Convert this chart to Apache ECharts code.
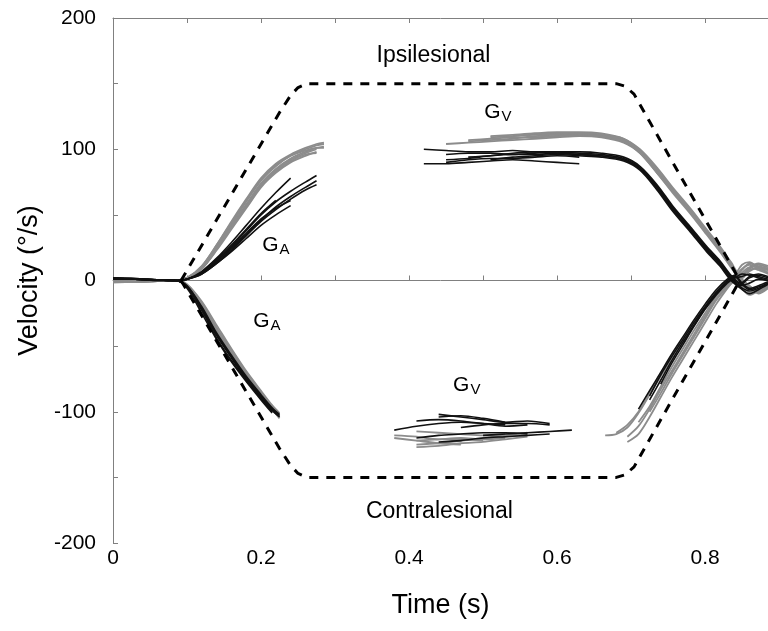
<!DOCTYPE html>
<html>
<head>
<meta charset="utf-8">
<script src="https://cdn.jsdelivr.net/npm/echarts@6/dist/echarts.min.js"></script>
<style>
html,body{margin:0;padding:0;background:#fff;}
#chart{width:768px;height:631px;}
</style>
</head>
<body>
<div id="chart"></div>
<script>
// time grids (s) for each part of the traces
var tAccUp = [0, 0.03, 0.06, 0.085, 0.1, 0.12, 0.14, 0.16, 0.18, 0.2, 0.22, 0.24, 0.26, 0.275, 0.285];
var tAccDn = [0, 0.03, 0.06, 0.085, 0.1, 0.12, 0.14, 0.16, 0.18, 0.2, 0.215, 0.225];
var tVelUp = [0.42, 0.45, 0.48, 0.51, 0.54, 0.57, 0.6, 0.63, 0.66, 0.69, 0.712, 0.735, 0.756, 0.78, 0.802, 0.82, 0.835, 0.848, 0.86, 0.872, 0.885];
var tVelDn = [0.38, 0.41, 0.44, 0.47, 0.5, 0.53, 0.56, 0.59, 0.62];
var tRet = [0.665, 0.68, 0.695, 0.71, 0.725, 0.74, 0.755, 0.77, 0.785, 0.8, 0.815, 0.83, 0.84, 0.85, 0.86, 0.872, 0.885];

// ipsilesional acceleration (G_A, up)
var accUpGray = [
    [-1, -1, -0.5, 0, 2, 11, 27, 45, 62, 78, 89, 96, 101, 104, 105],
    [-1.5, -1, -0.5, 0, 2, 10, 26, 43, 60, 76, 87, 95, 100, 103, 104],
    [-1, -0.5, 0, 0, 2, 10, 25, 42, 58, 74, 85, 93, 98, 101, 102],
    [-0.5, -0.5, 0, 0, 1.5, 9, 24, 41, 57, 73, 84, 92, 97, 100, null],
    [-1, -0.5, 0, 0, 1.5, 9, 23, 39, 55, 71, 82, 90, 95, 98, null],
    [-1, -1, -0.5, 0, 2, 11, 27, 44, 61, 77, 88, 95, 99, 101, 101],
    [-0.5, 0, 0, 0, 1.5, 9, 24, 40, 56, 72, 83, 91, 96, 97, null]
];
var accUpBlack = [
    [1.5, 1, 0.5, 0, 1, 6, 15, 26, 38, 50, 60, 68, 75, 80, null],
    [1.5, 1, 0.5, 0, 1, 6, 14, 24, 35, 46, 56, 64, 71, 76, null],
    [2, 1.5, 0.5, 0, 1, 7, 17, 29, 42, 55, 67, 78, null, null, null],
    [1.5, 1, 0.5, 0, 1, 6, 15, 25, 36, 47, 55, 61, null, null, null],
    [1.5, 1, 0, 0, 1, 5, 13, 22, 32, 42, 50, 57, null, null, null],
    [1, 1, 0.5, 0, 1, 6, 16, 27, 39, 51, 61, null, null, null, null],
    [1.5, 1, 0.5, 0, 1, 5, 13, 23, 34, 45, 54, 62, 69, 73, null]
];

// contralesional acceleration (G_A, down)
var accDnGray = [
    [-1, -1, -0.5, 0, -4, -19, -38, -55, -71, -86, -97, -104],
    [-1, -0.5, 0, 0, -3, -17, -36, -53, -70, -85, -96, -103],
    [-1.5, -1, -0.5, 0, -4, -18, -37, -54, -72, -88, -99, null],
    [-1, -1, 0, 0, -3, -16, -34, -52, -69, -84, -95, -101],
    [-0.5, -0.5, 0, 0, -4, -20, -39, -56, -72, -87, -98, -105]
];
var accDnBlack = [
    [1.5, 1, 0.5, 0, -5, -22, -42, -59, -75, -89, -99, -104],
    [1.5, 1, 0.5, 0, -5, -23, -44, -61, -76, -90, -100, null],
    [2, 1.5, 0.5, 0, -4, -21, -41, -58, -74, -88, -98, -103],
    [1, 1, 0, 0, -6, -25, -45, -62, -77, -91, -101, null],
    [1.5, 1, 0.5, 0, -4, -20, -40, -57, -73, -87, -97, -102]
];

// ipsilesional visually guided part (G_V, up)
var velUpGray = [
    [null, null, null, 109, 110, 111, 112, 112, 111, 108, 99, 84, 69, 53, 37, 24, 12, 2, 9, 12, 10],
    [null, null, 106, 107, 108, 110, 111, 111, 110, 107, 98, 83, 68, 52, 36, 23, 11, 1, 7, 10, 8],
    [null, null, null, null, 110, 112, 113, 113, 112, 108, 100, 86, 71, 55, 39, 26, 14, 4, 10, 13, 11],
    [null, 104, 105, 106, 107, 108, 109, 110, 109, 105, 97, 82, 67, 51, 35, 22, 10, 0, -6, -9, -5],
    [null, null, 107, 108, 109, 109, 110, 111, 110, 106, 98, 84, 69, 53, 37, 24, 12, 2, -4, -8, -4],
    [null, null, null, 110, 111, 112, 111, 112, 111, 107, 99, 85, 70, 54, 38, 25, 13, 3, 8, 9, 6],
    [null, null, null, null, null, 109, 110, 111, 110, 106, 97, 82, 68, 52, 36, 23, 11, 1, -5, -10, -6]
];
var velUpBlack = [
    [100, 99, 98, 98, 99, 98, 98, 97, 96, 93, 86, 72, 56, 40, 25, 14, 3, -3, 2, 4, 2],
    [null, 92, 93, 95, 96, 96, 97, 96, 95, 92, 85, 71, 55, 39, 24, 13, 2, -4, -2, 1, 0],
    [89, 89, 90, 91, 92, 91, 90, 89, null, null, null, null, null, null, null, null, null, null, null, null, null],
    [null, null, 94, 95, 97, 98, 97, 96, 95, 92, 85, 70, 54, 38, 23, 12, 1, -5, -8, -6, -2],
    [null, 96, 97, 97, 96, 97, 98, 98, 97, 94, 87, 73, 57, 41, 26, 15, 4, -2, 3, 5, 3],
    [null, null, null, 92, 94, 95, 96, 95, 94, 91, 84, 69, 53, 37, 22, 11, 0, -6, -10, -7, -3],
    [null, 90, 92, 93, 93, 94, 95, 94, null, null, null, null, null, null, null, null, null, null, null, null, null]
];

// contralesional visually guided part (G_V, down)
var velDnGray = [
    [null, -122, -121, -120, -121, -120, null, null, null],
    [null, -125, -124, -122, -121, -119, -118, null, null],
    [-118, -119, -121, -121, -122, null, null, null, null],
    [null, -127, -126, -124, -123, -121, -119, null, null],
    [null, null, -124, -122, -120, -118, -116, null, null],
    [-120, -122, -124, -125, null, null, null, null, null],
    [null, -115, -116, -117, -118, -117, null, null, null]
];
var velDnBlack = [
    [-114, -111, -109, -108, -109, -110, null, null, null],
    [null, -107, -106, -107, -109, -111, -110, null, null],
    [null, null, -104, -103, -105, -108, null, null, null],
    [null, null, -102, -104, -106, -108, -107, -109, null],
    [null, null, null, -112, -110, -109, -109, -110, null],
    [null, null, null, null, -118, -117, -116, -115, -114],
    [null, -120, -118, -117, -116, -116, -117, null, null],
    [null, null, -123, -122, -120, -119, -118, -117, null]
];

// contralesional return towards zero
var retGray = [
    [-118, -117, -112, -101, -87, -73, -60, -47, -34, -21, -10, -1, 4, 12, 14, 10, 8],
    [null, null, -123, -117, -104, -89, -74, -60, -46, -32, -18, -6, 1, 8, 13, 11, 9],
    [null, -116, -110, -100, -86, -71, -58, -45, -31, -19, -8, 0, 3, 9, 12, 9, 6],
    [null, null, null, -108, -96, -81, -66, -52, -38, -25, -12, -3, 2, -6, -11, -8, -4],
    [null, null, -119, -111, -98, -83, -69, -55, -41, -27, -14, -4, 1, -4, -9, -7, -3],
    [null, null, null, null, -100, -86, -71, -57, -43, -29, -15, -5, 0, 6, 10, 8, 5]
];
var retBlack = [
    [null, null, null, null, -88, -72, -58, -45, -32, -20, -9, 0, 3, -3, -7, -5, -2],
    [null, null, null, null, -91, -76, -61, -47, -34, -21, -10, -1, 2, 3, 5, 3, 1],
    [null, null, null, -98, -84, -70, -56, -43, -30, -18, -7, 1, 4, -2, -6, -4, -1],
    [null, null, null, null, null, -79, -63, -49, -35, -22, -11, -2, 2, 5, 4, 2, 0]
];

// dashed target velocity profile
var dashT = [0.092, 0.225, 0.24, 0.25, 0.262, 0.68, 0.692, 0.704, 0.718, 0.847];
var dashUp = [0, 128, 141, 147, 150, 150, 148, 142, 128, 0];
var dashDn = [0, -128, -141, -147, -150, -150, -148, -142, -128, 0];

// text annotations
var noteText = ['Ipsilesional', 'Contralesional', '{g|G}{s|V}', '{g|G}{s|V}', '{g|G}{s|A}', '{g|G}{s|A}'];
var notePos = [[0.433, 171], [0.441, -176], [0.52, 128], [0.478, -80], [0.22, 27], [0.208, -31]];

var GRAY = '#8c8c8c';
var BLACK = '#111';
var FONT = 'Liberation Sans, Arial, sans-serif';
var series = [];

function addTraces(t, rows, color, width) {
    for (var i = 0; i < rows.length; i++) {
        var d = [];
        for (var j = 0; j < rows[i].length; j++) {
            if (rows[i][j] !== null) d.push([t[j], rows[i][j]]);
        }
        series.push({
            type: 'line', data: d, smooth: 0.3, symbol: 'none', silent: true,
            lineStyle: {color: color, width: width}
        });
    }
}

addTraces(tAccUp, accUpGray, GRAY, 1.8);
addTraces(tAccDn, accDnGray, GRAY, 1.8);
addTraces(tVelUp, velUpGray, GRAY, 1.8);
addTraces(tVelDn, velDnGray, GRAY, 1.8);
addTraces(tRet, retGray, GRAY, 1.8);
addTraces(tAccUp, accUpBlack, BLACK, 1.6);
addTraces(tAccDn, accDnBlack, BLACK, 1.6);
addTraces(tVelUp, velUpBlack, BLACK, 1.6);
addTraces(tVelDn, velDnBlack, BLACK, 1.6);
addTraces(tRet, retBlack, BLACK, 1.6);

[dashUp, dashDn].forEach(function (vals) {
    series.push({
        type: 'line', smooth: false, symbol: 'none', silent: true,
        data: dashT.map(function (t, i) { return [t, vals[i]]; }),
        lineStyle: {color: '#000', width: 3, type: [9, 8]}
    });
});

series.push({
    type: 'scatter', symbolSize: 0, silent: true,
    itemStyle: {opacity: 1, color: 'rgba(0,0,0,0)'},
    data: notePos.map(function (p, i) { return {value: p, name: noteText[i]}; }),
    label: {
        show: true, position: 'inside', color: '#000', fontFamily: FONT, fontSize: 23,
        textBorderWidth: 0, opacity: 1,
        formatter: function (p) { return p.name; },
        rich: {
            g: {fontSize: 21, fontFamily: FONT, color: '#000'},
            s: {fontSize: 15, fontFamily: FONT, color: '#000', verticalAlign: 'bottom', padding: [9, 0, 0, 1]}
        }
    }
});

function tenths(v) { return Math.round(v * 10); }

var chart = echarts.init(document.getElementById('chart'));
chart.setOption({
    animation: false,
    grid: {left: 113, right: 0, top: 18, bottom: 88},
    xAxis: [{
        type: 'value', min: 0, max: 0.885, interval: 0.1,
        name: 'Time (s)', nameLocation: 'middle', nameGap: 49,
        nameTextStyle: {fontSize: 27, fontFamily: FONT, color: '#000'},
        axisLine: {lineStyle: {color: '#808080', width: 1}},
        axisTick: {inside: true, length: 5, lineStyle: {color: '#808080'}},
        axisLabel: {
            fontSize: 21, fontFamily: FONT, color: '#000', margin: 5, showMaxLabel: false,
            formatter: function (v) {
                var k = tenths(v);
                if (Math.abs(v * 10 - k) > 1e-6 || k % 2 !== 0) return '';
                return k === 0 ? '0' : (k / 10).toFixed(1);
            }
        },
        splitLine: {show: false}
    }, {
        type: 'value', position: 'top', min: 0, max: 0.885, interval: 0.1,
        axisLine: {lineStyle: {color: '#808080', width: 1}},
        axisTick: {inside: true, length: 5, lineStyle: {color: '#808080'}},
        axisLabel: {show: false},
        splitLine: {show: false}
    }],
    yAxis: {
        type: 'value', min: -200, max: 200, interval: 50,
        name: 'Velocity (°/s)', nameLocation: 'middle', nameGap: 67, nameRotate: 90,
        nameTextStyle: {fontSize: 27, fontFamily: FONT, color: '#000'},
        axisLine: {show: true, lineStyle: {color: '#808080', width: 1}},
        axisTick: {show: true, inside: true, length: 5, lineStyle: {color: '#808080'}},
        axisLabel: {
            fontSize: 21, fontFamily: FONT, color: '#000', margin: 17,
            formatter: function (v) { return v % 100 === 0 ? String(v) : ''; }
        },
        splitLine: {show: false}
    },
    series: series
});
</script>
</body>
</html>
